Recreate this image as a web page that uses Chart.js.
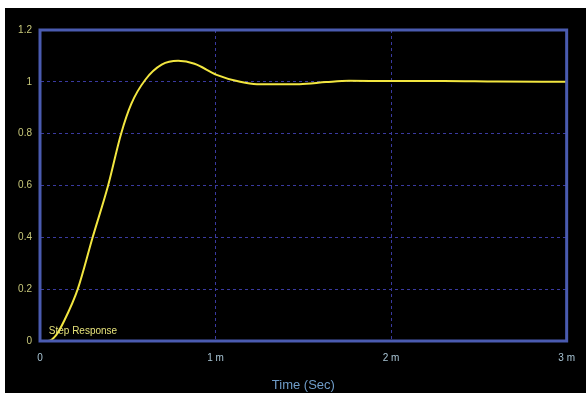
<!DOCTYPE html>
<html>
<head>
<meta charset="utf-8">
<script src="https://cdn.jsdelivr.net/npm/chart.js@4/dist/chart.umd.min.js"></script>
<style>
  html, body { margin: 0; padding: 0; background: #ffffff; }
  #wrap { position: absolute; left: 5px; top: 8px; width: 581px; height: 385px; background: #000000; }
</style>
</head>
<body>
<div id="wrap"><canvas id="stepChart" width="581" height="385"></canvas></div>
<script>
// step response (time in ms)
const timeMs = [0, 0.045, 0.092, 0.14, 0.215, 0.3, 0.388, 0.462, 0.52, 0.6, 0.693, 0.787, 0.88, 1.006, 1.14, 1.236, 1.479, 1.63, 1.76, 2.0, 2.3, 2.6, 3.0];
const response = [0, 0, 0.023, 0.081, 0.2, 0.4, 0.6, 0.8, 0.915, 1.008, 1.066, 1.081, 1.07, 1.027, 1.0, 0.991, 0.991, 0.999, 1.004, 1.003, 1.003, 1.001, 1.0];
const xTicks = [0, 1, 2, 3];
const yTicks = [0, 0.2, 0.4, 0.6, 0.8, 1, 1.2];

const points = timeMs.map((t, i) => ({ x: t, y: response[i] }));

// blue frame round the plot + the series label
const framePlugin = {
    id: 'frame',
    afterDatasetsDraw(chart) {
        const ctx = chart.ctx;
        const a = chart.chartArea;
        ctx.save();
        ctx.strokeStyle = '#4a5bb0';
        ctx.lineWidth = 3;
        ctx.strokeRect(a.left, a.top, a.right - a.left, a.bottom - a.top);
        ctx.fillStyle = '#e6e27a';
        ctx.font = '10px "Liberation Sans", Arial, sans-serif';
        ctx.textBaseline = 'bottom';
        ctx.fillText('Step Response', chart.scales.x.getPixelForValue(0.05), chart.scales.y.getPixelForValue(0.02));
        ctx.restore();
    }
};

const gridOpts = {
    color: '#3a3aa0',
    lineWidth: 1,
    drawTicks: false
};

new Chart(document.getElementById('stepChart'), {
    type: 'line',
    data: {
        datasets: [{
            data: points,
            borderColor: '#f2e640',
            borderWidth: 2,
            pointRadius: 0,
            cubicInterpolationMode: 'monotone',
            fill: false
        }]
    },
    options: {
        responsive: false,
        animation: false,
        layout: { padding: { left: 0, top: 22, right: 11, bottom: 0 } },
        plugins: {
            legend: { display: false },
            tooltip: { enabled: false }
        },
        scales: {
            x: {
                type: 'linear',
                min: 0,
                max: 3,
                afterBuildTicks: function(scale) {
                    scale.ticks = xTicks.map(v => ({ value: v }));
                },
                afterFit: function(scale) { scale.height = 52; },
                ticks: {
                    color: '#a8c4d4',
                    font: { family: '"Liberation Sans", Arial, sans-serif', size: 10 },
                    padding: 11,
                    maxRotation: 0,
                    callback: function(value) {
                        return value === 0 ? '0' : value + ' m';
                    }
                },
                grid: gridOpts,
                border: { display: true, color: 'rgba(0,0,0,0)', dash: [3, 3] },
                title: {
                    display: true,
                    text: 'Time (Sec)',
                    color: '#6f9cc8',
                    font: { family: '"Liberation Sans", Arial, sans-serif', size: 13 },
                    padding: { top: 6, bottom: 0 }
                }
            },
            y: {
                min: 0,
                max: 1.2,
                afterBuildTicks: function(scale) {
                    scale.ticks = yTicks.map(v => ({ value: v }));
                },
                afterFit: function(scale) { scale.width = 35; },
                ticks: {
                    color: '#c8c87a',
                    font: { family: '"Liberation Sans", Arial, sans-serif', size: 10 },
                    padding: 8,
                    callback: function(value) {
                        return String(+value.toFixed(1));
                    }
                },
                grid: gridOpts,
                border: { display: true, color: 'rgba(0,0,0,0)', dash: [3, 3] }
            }
        }
    },
    plugins: [framePlugin]
});
</script>
</body>
</html>
